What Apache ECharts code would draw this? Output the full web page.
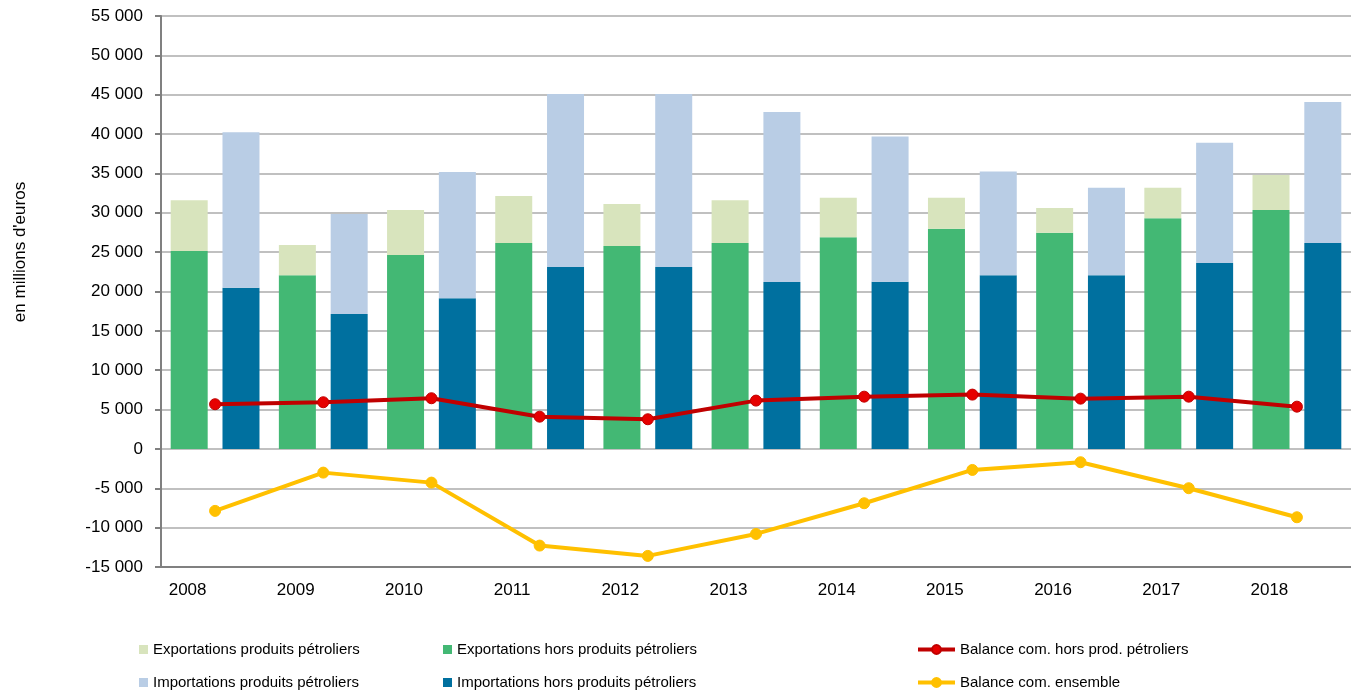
<!DOCTYPE html>
<html>
<head>
<meta charset="utf-8">
<script src="https://cdn.jsdelivr.net/npm/echarts@6/dist/echarts.min.js"></script>
<style>
  html, body { margin: 0; padding: 0; background: #fff; }
  #main { width: 1351px; height: 693px; }
</style>
</head>
<body>
<div id="main"></div>
<script>
const years = ['2008', '2009', '2010', '2011', '2012', '2013', '2014', '2015', '2016', '2017', '2018'];

// exportations (hors produits pétroliers + produits pétroliers, empilés)
const expHors = [25150, 22060, 24640, 26160, 25780, 26160, 26900, 27980, 27470, 29300, 30350];
const expPetro = [6450, 3840, 5710, 5970, 5335, 5440, 5000, 3940, 3130, 3890, 4450];

// importations
const impHors = [20490, 17150, 19140, 23110, 23100, 21200, 21250, 22060, 22060, 23620, 26160];
const impPetro = [19730, 12700, 16040, 21975, 22000, 21600, 18450, 13200, 11130, 15280, 17910];

// balances
const balHors = [5680, 5930, 6440, 4100, 3770, 6140, 6640, 6900, 6390, 6640, 5370];
const balEnsemble = [-7870, -3010, -4280, -12280, -13590, -10800, -6900, -2670, -1690, -4990, -8680];

const yTicks = { min: -15000, max: 55000, step: 5000 };

const fontFamily = '"Liberation Sans", "DejaVu Sans", sans-serif';
const fmt = v => String(v).replace(/\B(?=(\d{3})+(?!\d))/g, ' ');

const chart = echarts.init(document.getElementById('main'));

function legendAt(name, left, top, isLine) {
  const lg = {
    data: [{ name: name, icon: isLine ? undefined : 'rect' }],
    left: left,
    top: top,
    padding: 0,
    itemWidth: isLine ? 37 : 9,
    itemHeight: isLine ? 11 : 9,
    selectedMode: false,
    textStyle: { fontFamily: fontFamily, fontSize: 15, color: '#000' }
  };
  if (isLine) lg.lineStyle = { width: 4 };
  return lg;
}

const barCommon = {
  type: 'bar',
  barWidth: 37,
  barGap: '40%'
};

const option = {
  backgroundColor: '#fff',
  animation: false,
  grid: { left: 161, top: 16, width: 1196, height: 551 },
  legend: [
    legendAt('Exportations produits pétroliers', 139, 642),
    legendAt('Importations produits pétroliers', 139, 675),
    legendAt('Exportations hors produits pétroliers', 443, 642),
    legendAt('Importations hors produits pétroliers', 443, 675),
    legendAt('Balance com. hors prod. pétroliers', 916, 642, true),
    legendAt('Balance com. ensemble', 916, 675, true)
  ],
  graphic: [{
    type: 'text',
    x: 20,
    y: 252,
    rotation: Math.PI / 2,
    style: {
      text: "en millions d'euros",
      font: '17px ' + fontFamily,
      fill: '#000',
      textAlign: 'center',
      textVerticalAlign: 'middle'
    }
  }],
  xAxis: {
    type: 'category',
    data: years,
    axisLine: { onZero: false, lineStyle: { color: '#808080', width: 2 } },
    axisTick: { length: 6, lineStyle: { color: '#808080', width: 2 } },
    axisLabel: {
      color: '#000',
      fontFamily: fontFamily,
      fontSize: 17,
      margin: 15,
      padding: [0, 55, 0, 0]
    }
  },
  yAxis: {
    type: 'value',
    min: yTicks.min,
    max: yTicks.max,
    interval: yTicks.step,
    axisLine: { show: true, lineStyle: { color: '#808080', width: 2 } },
    axisTick: { show: true, length: 6, lineStyle: { color: '#808080', width: 2 } },
    splitLine: { lineStyle: { color: '#c0c0c0', width: 2 } },
    axisLabel: {
      color: '#000',
      fontFamily: fontFamily,
      fontSize: 17,
      margin: 18,
      formatter: fmt
    }
  },
  series: [
    Object.assign({}, barCommon, {
      name: 'Exportations hors produits pétroliers',
      stack: 'exp',
      itemStyle: { color: '#43b874' },
      data: expHors
    }),
    Object.assign({}, barCommon, {
      name: 'Exportations produits pétroliers',
      stack: 'exp',
      itemStyle: { color: '#d8e4bd' },
      data: expPetro
    }),
    Object.assign({}, barCommon, {
      name: 'Importations hors produits pétroliers',
      stack: 'imp',
      itemStyle: { color: '#00709f' },
      data: impHors
    }),
    Object.assign({}, barCommon, {
      name: 'Importations produits pétroliers',
      stack: 'imp',
      itemStyle: { color: '#b9cde5' },
      data: impPetro
    }),
    {
      name: 'Balance com. hors prod. pétroliers',
      type: 'line',
      z: 5,
      symbol: 'circle',
      symbolSize: 11,
      lineStyle: { color: '#c00000', width: 4 },
      itemStyle: { color: '#e60000', borderColor: '#c00000', borderWidth: 1 },
      data: balHors
    },
    {
      name: 'Balance com. ensemble',
      type: 'line',
      z: 5,
      symbol: 'circle',
      symbolSize: 11,
      lineStyle: { color: '#ffc000', width: 4 },
      itemStyle: { color: '#ffc000', borderColor: '#ffc000', borderWidth: 1 },
      data: balEnsemble
    }
  ]
};

chart.setOption(option);
</script>
</body>
</html>
